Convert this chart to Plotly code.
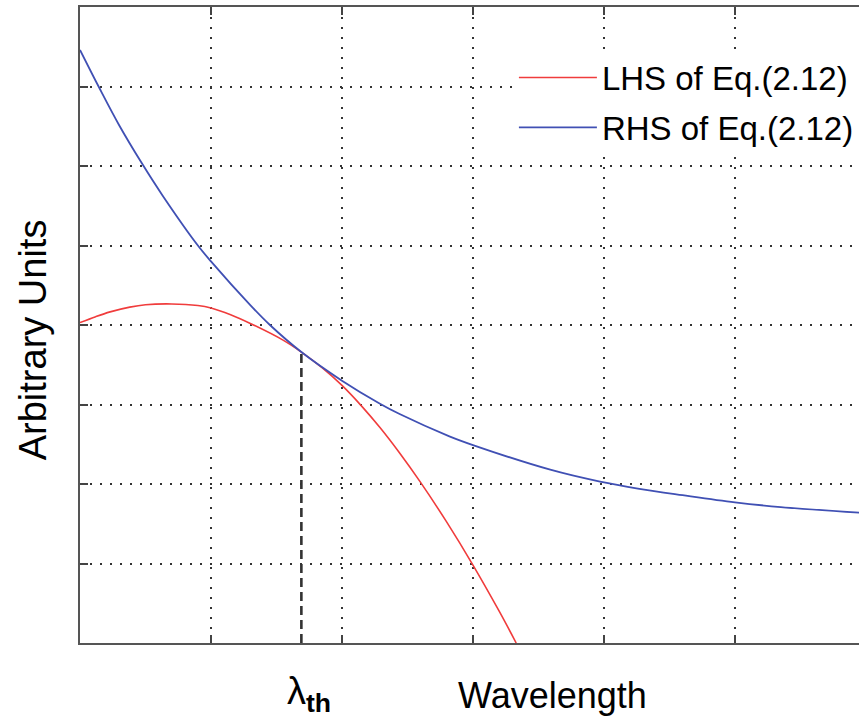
import plotly.graph_objects as go

# Left-hand side of Eq.(2.12) versus wavelength (arbitrary units)
lhs_x = [0, 0.12, 0.23, 0.38, 0.5, 0.7, 0.9, 1.0, 1.15, 1.3, 1.55, 1.69,
         1.85, 2.0, 2.15, 2.29, 2.44, 2.6, 2.8, 3.0, 3.2, 3.33]
lhs_y = [4.03, 4.105, 4.165, 4.225, 4.255, 4.265, 4.245, 4.215, 4.13, 4.02, 3.81, 3.66,
         3.46, 3.24, 2.98, 2.71, 2.39, 2.02, 1.52, 0.98, 0.40, 0.0]

# Right-hand side of Eq.(2.12)
rhs_x = [0, 0.145, 0.3, 0.47, 0.63, 0.9, 1.0, 1.3, 1.45, 1.69, 2.0, 2.29,
         2.44, 2.82, 3.0, 3.59, 3.97, 4.27, 4.6, 5.0, 5.35, 5.95]
rhs_y = [7.46, 6.99, 6.51, 6.04, 5.63, 5.0, 4.8, 4.25, 4.0, 3.66, 3.30, 3.01,
         2.88, 2.6, 2.49, 2.18, 2.03, 1.94, 1.86, 1.77, 1.71, 1.64]

# Threshold wavelength where both sides meet
lambda_th = 1.69
cross_y = 3.66

x_ticks = [1, 2, 3, 4, 5]
y_ticks = [1, 2, 3, 4, 5, 6, 7]

FONT = "Liberation Sans, Arial, sans-serif"

fig = go.Figure()
fig.add_trace(go.Scatter(
    x=lhs_x, y=lhs_y, mode="lines", name="LHS of Eq.(2.12)",
    line=dict(color="#f03c3c", width=1.6, shape="spline", smoothing=1.0),
    legendgroup="lhs",
))
fig.add_trace(go.Scatter(
    x=rhs_x, y=rhs_y, mode="lines", name="RHS of Eq.(2.12)",
    line=dict(color="#4050b4", width=1.8, shape="spline", smoothing=1.0),
    legendgroup="rhs",
))
fig.add_trace(go.Scatter(
    x=[lambda_th, lambda_th], y=[0, cross_y], mode="lines", showlegend=False,
    line=dict(color="#333333", width=2.6, dash="9px,5px"),
))

axis_common = dict(
    showticklabels=False,
    ticks="inside",
    ticklen=8,
    tickwidth=1.5,
    tickcolor="#444444",
    showline=True,
    linecolor="#555555",
    linewidth=2,
    showgrid=True,
    gridcolor="#333333",
    gridwidth=1.6,
    griddash="1.6px,8.4px",
    zeroline=False,
)

fig.update_xaxes(range=[0, 5.947], tickvals=x_ticks, mirror="ticks", **axis_common)
fig.update_yaxes(range=[0, 8], tickvals=y_ticks, mirror=False, **axis_common)

fig.update_layout(
    width=859,
    height=725,
    margin=dict(l=80, r=0, t=7, b=82),
    plot_bgcolor="white",
    paper_bgcolor="white",
    font=dict(family=FONT, color="black"),
    legend=dict(
        x=0.557, y=0.933, xanchor="left", yanchor="top",
        bgcolor="white", borderwidth=0,
        font=dict(size=33, family=FONT, color="black"),
        itemwidth=78,
        tracegroupgap=4,
        traceorder="grouped",
    ),
    annotations=[
        dict(text="Arbitrary Units", x=-0.0603, y=0.476, xref="paper", yref="paper",
             textangle=-90, showarrow=False, xanchor="center", yanchor="middle",
             font=dict(size=38, family=FONT, color="black")),
        dict(text="Wavelength", x=0.607, y=-0.0818, xref="paper", yref="paper",
             showarrow=False, xanchor="center", yanchor="middle",
             font=dict(size=36, family=FONT, color="black")),
        dict(text="λ<sub><b>th</b></sub>", x=lambda_th, y=-0.08, xref="x", yref="paper",
             xshift=8, showarrow=False, xanchor="center", yanchor="middle",
             font=dict(size=38, family=FONT, color="black")),
    ],
)

fig.write_html("out.html")
